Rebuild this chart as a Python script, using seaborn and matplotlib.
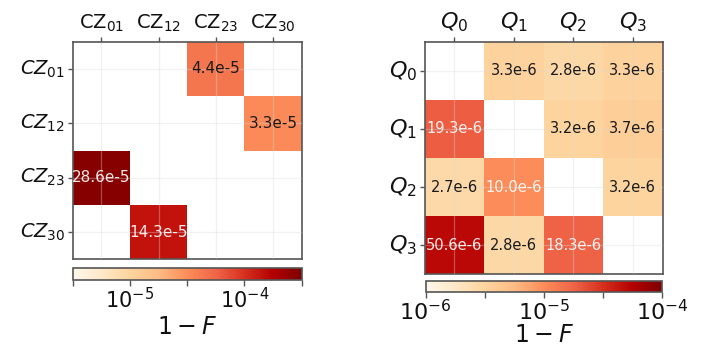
import numpy as np
import matplotlib
matplotlib.use("Agg")
import matplotlib.pyplot as plt
from matplotlib.colors import LogNorm
from matplotlib.ticker import NullLocator
import seaborn as sns

nan = np.nan
# ---- data ----
cz_xlabels = [r"CZ$_{01}$", r"CZ$_{12}$", r"CZ$_{23}$", r"CZ$_{30}$"]
cz_ylabels = [r"$CZ_{01}$", r"$CZ_{12}$", r"$CZ_{23}$", r"$CZ_{30}$"]
cz_row0 = [nan, nan, 4.4e-5, nan]
cz_row1 = [nan, nan, nan, 3.3e-5]
cz_row2 = [28.6e-5, nan, nan, nan]
cz_row3 = [nan, 14.3e-5, nan, nan]

q_labels = [r"$Q_0$", r"$Q_1$", r"$Q_2$", r"$Q_3$"]
q_row0 = [nan, 3.3e-6, 2.8e-6, 3.3e-6]
q_row1 = [19.3e-6, nan, 3.2e-6, 3.7e-6]
q_row2 = [2.7e-6, 10.0e-6, nan, 3.2e-6]
q_row3 = [50.6e-6, 2.8e-6, 18.3e-6, nan]

cz_ticks = [10**-5.5, 1e-5, 10**-4.5, 1e-4, 10**-3.5]
cz_ticklabels = ["", r"$10^{-5}$", "", r"$10^{-4}$", ""]
q_ticks = [1e-6, 10**-5.5, 1e-5, 10**-4.5, 1e-4]
q_ticklabels = [r"$10^{-6}$", "", r"$10^{-5}$", "", r"$10^{-4}$"]

sns.set_style("white")
plt.rcParams["font.family"] = ["DejaVu Sans"]
plt.rcParams["mathtext.fontset"] = "dejavusans"

fig = plt.figure(figsize=(7.11, 3.5), dpi=100)

spine_col = "#555555"


def panel(ax_rect, cax_rect, rows, xlabels, ylabels, exp, vmin, vmax,
          ticks, ticklabels, white_thr, annot_size, label_pad,
          tick_size, cbar_tick_size):
    ax = fig.add_axes(ax_rect)
    cax = fig.add_axes(cax_rect)
    data = np.array(rows, dtype=float)
    scale = 10.0 ** exp
    annot = np.array([["" if np.isnan(v) else f"{v/scale:.1f}e{exp}" for v in r]
                      for r in data])
    sns.heatmap(data, ax=ax, cbar_ax=cax, cmap="OrRd",
                norm=LogNorm(vmin=vmin, vmax=vmax),
                annot=annot, fmt="", square=False,
                annot_kws={"fontsize": annot_size},
                cbar_kws={"orientation": "horizontal"})
    flat = [v for v in data.flatten() if not np.isnan(v)]
    for t, v in zip([t for t in ax.texts if t.get_text() != ""], flat):
        if v >= white_thr:
            t.set_color("white")
            t.set_alpha(0.92)
        else:
            t.set_color("#1a1a1a")
    ax.xaxis.tick_top()
    ax.set_xticklabels(xlabels, rotation=0, fontsize=tick_size)
    ax.set_yticklabels(ylabels, rotation=0, fontsize=tick_size)
    ax.tick_params(axis="both", length=3.5, width=1, color=spine_col,
                   pad=2, labelcolor="#111111")
    ax.tick_params(axis="x", top=True, bottom=False)
    ax.tick_params(axis="y", left=True)
    ax.grid(True, color="#d8d8d8", alpha=0.35, lw=0.9)
    ax.set_axisbelow(False)
    for s in ax.spines.values():
        s.set_visible(True)
        s.set_color(spine_col)
        s.set_linewidth(1.2)
    cbar = ax.collections[0].colorbar
    cbar.set_ticks(ticks)
    cbar.set_ticklabels(ticklabels)
    cax.xaxis.set_minor_locator(NullLocator())
    cax.tick_params(axis="x", length=4, width=1, color=spine_col,
                    labelsize=cbar_tick_size, pad=1, labelcolor="#111111")
    cbar.outline.set_edgecolor(spine_col)
    cbar.outline.set_linewidth(1.2)
    cbar.set_label(r"$1-F$", fontsize=17, labelpad=label_pad, color="#111111")
    return ax


panel([72.7/711, 1-259.3/350, 229/711, 217.6/350],
      [72.7/711, 1-280/350, 229/711, 12/350],
      [cz_row0, cz_row1, cz_row2, cz_row3], cz_xlabels, cz_ylabels,
      -5, 10**-5.5, 10**-3.5, cz_ticks, cz_ticklabels, 1e-4, 11, 2,
      14, 15)

panel([424.5/711, 1-274.3/350, 238/711, 232.6/350],
      [425.5/711, 1-292/350, 236.5/711, 11/350],
      [q_row0, q_row1, q_row2, q_row3], q_labels, q_labels,
      -6, 1e-6, 1e-4, q_ticks, q_ticklabels, 1e-5, 10.5, -1,
      16, 16)

fig.savefig("out.png", dpi=100)
